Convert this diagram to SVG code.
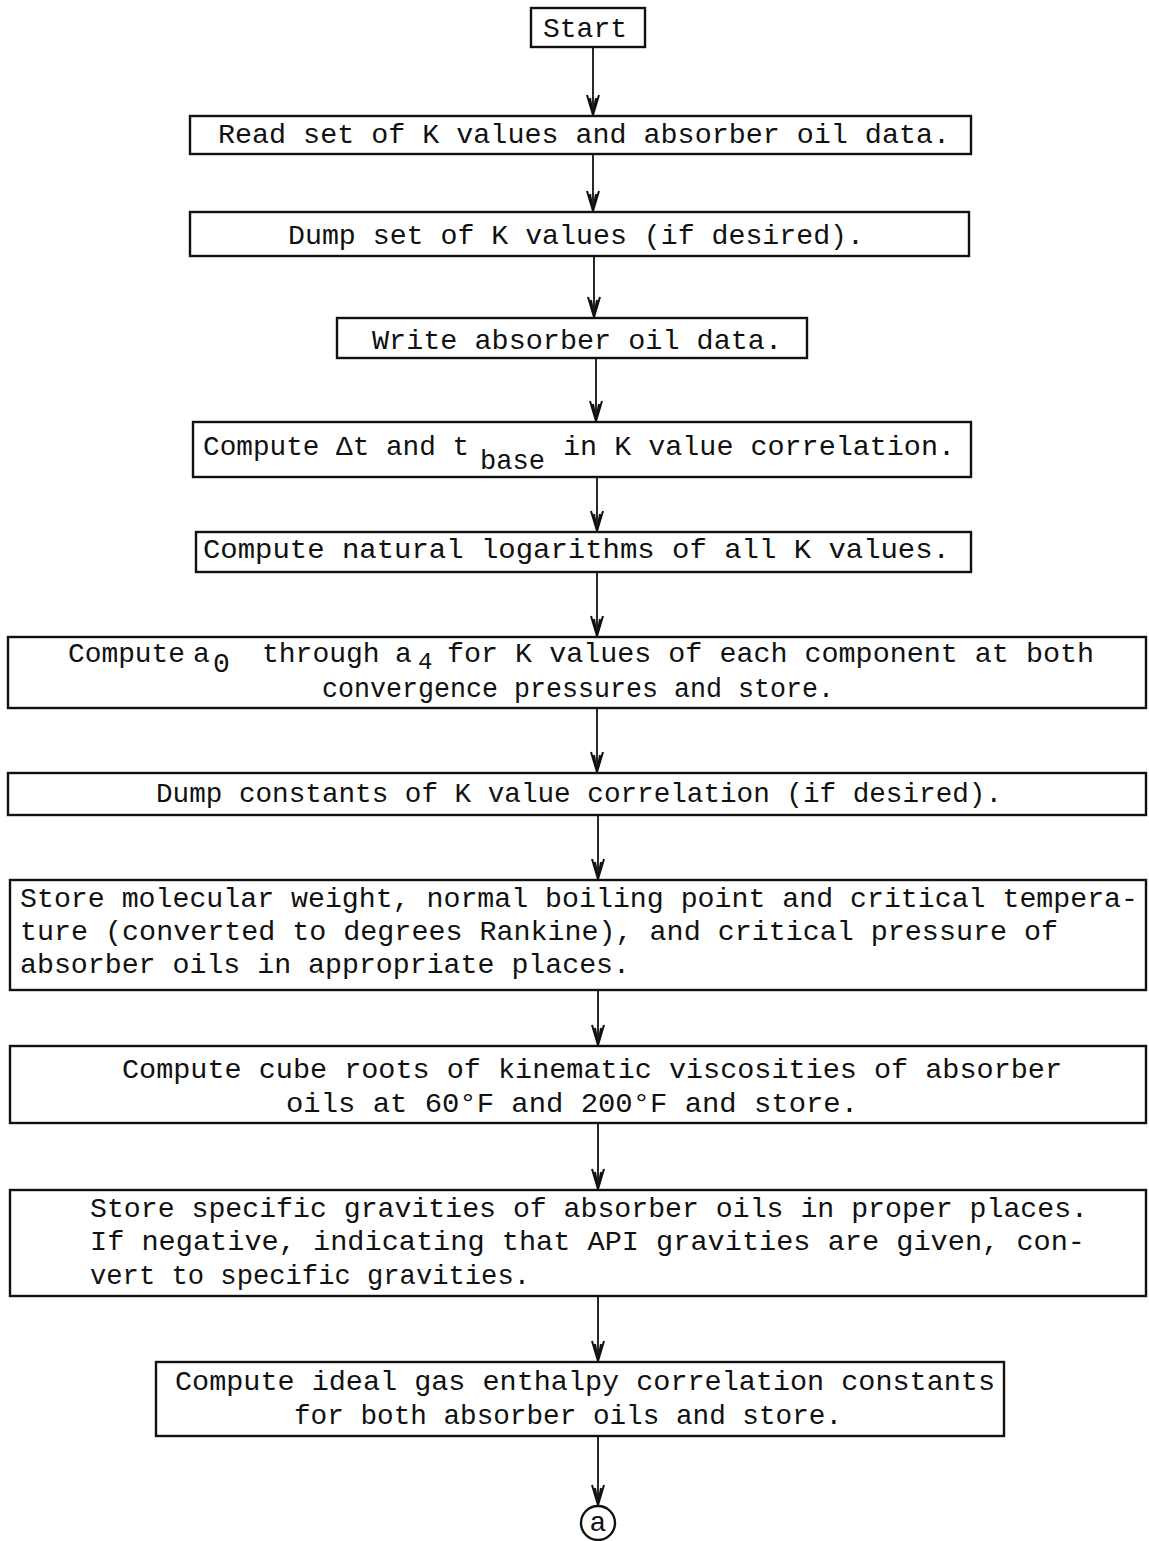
<svg xmlns="http://www.w3.org/2000/svg" width="1149" height="1541" viewBox="0 0 1149 1541">
  <defs>
    <style>
      .box { fill: #fff; stroke: #111; stroke-width: 2.4; }
      .t { font-family: "Liberation Mono", "DejaVu Sans Mono", monospace; font-size: 28px; fill: #111; }
      .sub { font-family: "Liberation Mono", "DejaVu Sans Mono", monospace; font-size: 24px; fill: #111; }
      .edge { stroke: #111; stroke-width: 1.8; fill: none; marker-end: url(#arrow); }
    </style>
    <!-- narrow hand-drawn V arrowhead, tip at the end of the line -->
    <marker id="arrow" markerUnits="userSpaceOnUse" markerWidth="26" markerHeight="18" viewBox="-24 -9 26 18" refX="0" refY="0" orient="auto">
      <path d="M-20,-6 L0,0 L-20,6 M-17,-3 L0,0 L-17,3" fill="none" stroke="#111" stroke-width="2"/>
    </marker>
  </defs>

  <rect width="1149" height="1541" fill="#fff"/>

  <!-- connectors -->
  <g id="connectors">
    <line class="edge" x1="593" y1="47" x2="593" y2="115"/>
    <line class="edge" x1="593" y1="154" x2="593" y2="211"/>
    <line class="edge" x1="594" y1="256" x2="594" y2="317"/>
    <line class="edge" x1="596" y1="358" x2="596" y2="421"/>
    <line class="edge" x1="597" y1="477" x2="597" y2="531"/>
    <line class="edge" x1="597" y1="572" x2="597" y2="636"/>
    <line class="edge" x1="597" y1="708" x2="597" y2="772"/>
    <line class="edge" x1="598" y1="815" x2="598" y2="879"/>
    <line class="edge" x1="598" y1="990" x2="598" y2="1045"/>
    <line class="edge" x1="598" y1="1123" x2="598" y2="1189"/>
    <line class="edge" x1="598" y1="1296" x2="598" y2="1361"/>
    <line class="edge" x1="598" y1="1436" x2="598" y2="1505"/>
  </g>

  <g id="start">
    <rect class="box" x="531" y="8" width="114" height="39"/>
    <text class="t" x="543" y="37" textLength="84" lengthAdjust="spacingAndGlyphs">Start</text>
  </g>

  <g id="read-data">
    <rect class="box" x="190" y="116" width="781" height="38"/>
    <text class="t" x="218" y="143" textLength="732" lengthAdjust="spacingAndGlyphs">Read set of K values and absorber oil data.</text>
  </g>

  <g id="dump-k">
    <rect class="box" x="190" y="212" width="779" height="44"/>
    <text class="t" x="288" y="244" textLength="576" lengthAdjust="spacingAndGlyphs">Dump set of K values (if desired).</text>
  </g>

  <g id="write-oil">
    <rect class="box" x="337" y="318" width="470" height="40"/>
    <text class="t" x="372" y="349" textLength="410" lengthAdjust="spacingAndGlyphs">Write absorber oil data.</text>
  </g>

  <g id="compute-dt">
    <rect class="box" x="193" y="422" width="778" height="55"/>
    <text class="t" x="203" y="455" textLength="266" lengthAdjust="spacingAndGlyphs">Compute Δt and t</text>
    <text class="t" x="480" y="469" textLength="65" lengthAdjust="spacingAndGlyphs">base</text>
    <text class="t" x="563" y="455" textLength="392" lengthAdjust="spacingAndGlyphs">in K value correlation.</text>
  </g>

  <g id="compute-ln">
    <rect class="box" x="196" y="532" width="775" height="40"/>
    <text class="t" x="203" y="558" textLength="747" lengthAdjust="spacingAndGlyphs">Compute natural logarithms of all K values.</text>
  </g>

  <g id="compute-a">
    <rect class="box" x="8" y="637" width="1138" height="71"/>
    <text class="t" x="68" y="662" textLength="117" lengthAdjust="spacingAndGlyphs">Compute</text>
    <text class="t" x="193" y="662">a</text>
    <text class="t" x="213" y="672">0</text>
    <text class="t" x="262" y="662">through</text>
    <text class="t" x="395" y="662">a</text>
    <text class="sub" x="418" y="669">4</text>
    <text class="t" x="447" y="662" textLength="647" lengthAdjust="spacingAndGlyphs">for K values of each component at both</text>
    <text class="t" x="322" y="697" textLength="512" lengthAdjust="spacingAndGlyphs">convergence pressures and store.</text>
  </g>

  <g id="dump-constants">
    <rect class="box" x="8" y="773" width="1138" height="42"/>
    <text class="t" x="156" y="802" textLength="846" lengthAdjust="spacingAndGlyphs">Dump constants of K value correlation (if desired).</text>
  </g>

  <g id="store-properties">
    <rect class="box" x="10" y="880" width="1136" height="110"/>
    <text class="t" x="20" y="907" textLength="1118" lengthAdjust="spacingAndGlyphs">Store molecular weight, normal boiling point and critical tempera-</text>
    <text class="t" x="20" y="940" textLength="1038" lengthAdjust="spacingAndGlyphs">ture (converted to degrees Rankine), and critical pressure of</text>
    <text class="t" x="20" y="973" textLength="610" lengthAdjust="spacingAndGlyphs">absorber oils in appropriate places.</text>
  </g>

  <g id="cube-roots">
    <rect class="box" x="10" y="1046" width="1136" height="77"/>
    <text class="t" x="122" y="1078" textLength="940" lengthAdjust="spacingAndGlyphs">Compute cube roots of kinematic viscosities of absorber</text>
    <text class="t" x="286" y="1112" textLength="572" lengthAdjust="spacingAndGlyphs">oils at 60°F and 200°F and store.</text>
  </g>

  <g id="specific-gravities">
    <rect class="box" x="10" y="1190" width="1136" height="106"/>
    <text class="t" x="90" y="1217" textLength="998" lengthAdjust="spacingAndGlyphs">Store specific gravities of absorber oils in proper places.</text>
    <text class="t" x="90" y="1250" textLength="995" lengthAdjust="spacingAndGlyphs">If negative, indicating that API gravities are given, con-</text>
    <text class="t" x="90" y="1284" textLength="440" lengthAdjust="spacingAndGlyphs">vert to specific gravities.</text>
  </g>

  <g id="enthalpy-constants">
    <rect class="box" x="156" y="1362" width="848" height="74"/>
    <text class="t" x="175" y="1390" textLength="820" lengthAdjust="spacingAndGlyphs">Compute ideal gas enthalpy correlation constants</text>
    <text class="t" x="294" y="1424" textLength="548" lengthAdjust="spacingAndGlyphs">for both absorber oils and store.</text>
  </g>

  <g id="connector-a">
    <circle cx="598" cy="1523" r="17" fill="#fff" stroke="#111" stroke-width="2.4"/>
    <text class="t" x="598" y="1531" text-anchor="middle">a</text>
  </g>
</svg>
